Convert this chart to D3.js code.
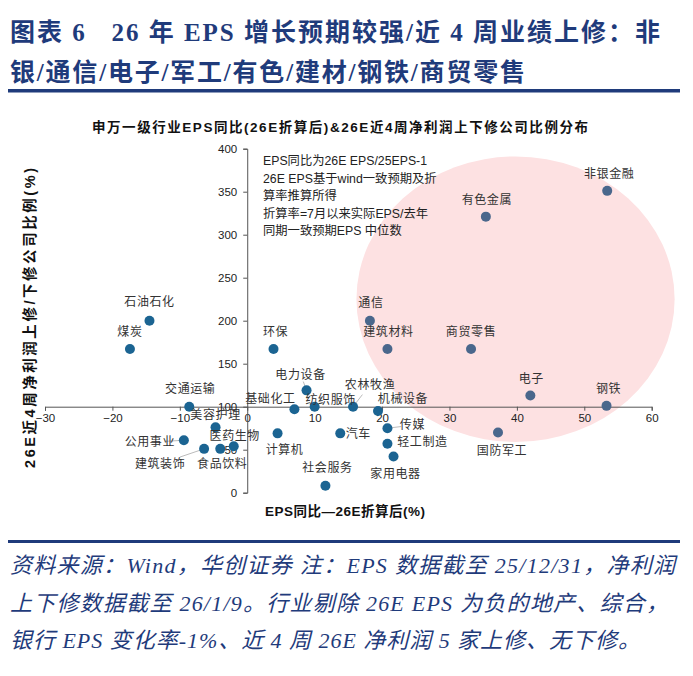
<!DOCTYPE html>
<html>
<head>
<meta charset="utf-8">
<script src="https://cdn.jsdelivr.net/npm/d3@7"></script>
<style>
  body { margin: 0; background: #fff; }
  svg { display: block; }
</style>
</head>
<body>
<div id="chart"></div>
<script>
// industry names, EPS yoy (26E, %), 26E 4-week up/down revision ratio (%)
var industries = ["石油石化","煤炭","环保","电力设备","交通运输","基础化工","纺织服饰","农林牧渔","机械设备",
  "美容护理","公用事业","医药生物","建筑装饰","食品饮料","计算机","社会服务","汽车","传媒","轻工制造","家用电器",
  "通信","建筑材料","商贸零售","电子","钢铁","国防军工","非银金融","有色金属"];
var epsYoy = [-14.5,-17.4,3.9,8.8,-8.6,7.0,10.0,15.7,19.4,
  -4.7,-9.4,-2.0,-6.4,-4.0,4.5,11.6,13.8,20.8,20.8,21.7,
  18.2,20.8,33.2,42.0,53.3,37.2,53.4,35.4];
var revRatio = [200,167,167,119,100,97,100,100,95,
  76,61,54,51,51,69,8,69,75,57,42,
  200,167,167,113,101,70,351,321];

var xTicks = [-30,-20,-10,0,10,20,30,40,50,60];
var yTicks = [0,50,100,150,200,250,300,350,400];

var noteLines = ["EPS同比为26E EPS/25EPS-1","26E EPS基于wind一致预期及折","算率推算所得",
  "折算率=7月以来实际EPS/去年","同期一致预期EPS 中位数"];
var footLines = ["资料来源：Wind，华创证券 注：EPS 数据截至 25/12/31，净利润",
  "上下修数据截至 26/1/9。行业剔除 26E EPS 为负的地产、综合，",
  "银行 EPS 变化率-1%、近 4 周 26E 净利润 5 家上修、无下修。"];

// label placement (pixel offsets from the dot), third value = draw a leader line
var labelPos = {
  "石油石化":[0,-19],"煤炭":[0,-17],"环保":[2,-17],"电力设备":[-6,-16,1],"交通运输":[1,-18],
  "基础化工":[-24,-10],"纺织服饰":[16,-7],"农林牧渔":[17,-22,1],"机械设备":[25,-12],
  "美容护理":[0,-13],"公用事业":[-34,2,1],"医药生物":[1,-10],"建筑装饰":[-44,15,1],"食品饮料":[2,15],
  "计算机":[7,16],"社会服务":[2,-18],"汽车":[18,0],"传媒":[25,-3,1],"轻工制造":[35,-2],
  "家用电器":[2,17],"通信":[1,-18],"建筑材料":[1,-17],"商贸零售":[0,-17],"电子":[1,-17],
  "钢铁":[2,-17],"国防军工":[4,18],"非银金融":[2,-17],"有色金属":[1,-17]
};

var W = 693, H = 676;
var navy = "#1f3b7b";
var cjk = "'Noto Sans CJK SC', 'Noto Sans', sans-serif";
var sans = "Arial, 'Liberation Sans', 'Noto Sans CJK SC', sans-serif";
var serif = "'Liberation Serif', 'Times New Roman', 'Noto Sans CJK SC', serif";

var svg = d3.select("#chart").append("svg").attr("width", W).attr("height", H);

// header
var title = svg.append("g").attr("fill", navy).attr("font-family", serif)
  .attr("font-weight", "bold").attr("font-size", 25);
title.append("text").attr("x", 10).attr("y", 41)
  .attr("textLength", 650).attr("lengthAdjust", "spacing")
  .text("图表 6\u00a0\u00a0\u00a026 年 EPS 增长预期较强/近 4 周业绩上修：非");
title.append("text").attr("x", 10).attr("y", 81)
  .attr("textLength", 515).attr("lengthAdjust", "spacing")
  .text("银/通信/电子/军工/有色/建材/钢铁/商贸零售");
svg.append("rect").attr("x", 8).attr("y", 89).attr("width", 672).attr("height", 3.5).attr("fill", navy);

// scales
var x = d3.scaleLinear().domain([-30, 60]).range([45, 651.7]);
var y = d3.scaleLinear().domain([0, 400]).range([492.7, 148.7]);

// chart title
svg.append("text").attr("x", 340).attr("y", 132).attr("text-anchor", "middle")
  .attr("font-family", sans).attr("font-weight", "bold").attr("font-size", 13.5).attr("fill", "#111")
  .attr("textLength", 496).attr("lengthAdjust", "spacing")
  .text("申万一级行业EPS同比(26E折算后)&26E近4周净利润上下修公司比例分布");

// highlight ellipse (data units)
var ell = { cx: 39.8, cy: 225, rx: 23.6, ry: 166 };
svg.append("ellipse")
  .attr("cx", x(ell.cx)).attr("cy", y(ell.cy))
  .attr("rx", x(ell.cx + ell.rx) - x(ell.cx)).attr("ry", y(ell.cy) - y(ell.cy + ell.ry))
  .attr("fill", "#fde1e2");

// axes
var xAxis = svg.append("g").attr("transform", "translate(0," + y(100) + ")")
  .call(d3.axisBottom(x).tickValues(xTicks).tickSize(4).tickPadding(3));
var yAxis = svg.append("g").attr("transform", "translate(" + x(0) + ",0)")
  .call(d3.axisLeft(y).tickValues(yTicks).tickSize(4).tickPadding(6));
[xAxis, yAxis].forEach(function(a) {
  a.select(".domain").attr("stroke", "#555");
  a.selectAll(".tick line").attr("stroke", "#555");
  a.selectAll(".tick text").attr("font-family", sans).attr("font-size", 11.5).attr("fill", "#222");
});

// axis titles
svg.append("text").attr("x", 345).attr("y", 516).attr("text-anchor", "middle")
  .attr("font-family", sans).attr("font-weight", "bold").attr("font-size", 13.5).attr("fill", "#111")
  .attr("textLength", 160).attr("lengthAdjust", "spacing")
  .text("EPS同比—26E折算后(%)");
svg.append("text").attr("transform", "translate(35,318) rotate(-90)").attr("text-anchor", "middle")
  .attr("font-family", sans).attr("font-weight", "bold").attr("font-size", 14.5).attr("fill", "#111")
  .attr("textLength", 300).attr("lengthAdjust", "spacing")
  .text("26E近4周净利润上修/下修公司比例(%)");

// note
svg.append("g").selectAll("text").data(noteLines).enter().append("text")
  .attr("x", 263).attr("y", function(d, i) { return 165 + i * 17.5; })
  .attr("font-family", sans).attr("font-size", 12.3).attr("fill", "#222")
  .text(function(d) { return d; });

// points
var pts = industries.map(function(n, i) { return { name: n, ex: epsYoy[i], ry: revRatio[i] }; });
function inEll(d) {
  return Math.pow((d.ex - ell.cx) / ell.rx, 2) + Math.pow((d.ry - ell.cy) / ell.ry, 2) < 1;
}

var g = svg.append("g");
g.selectAll("line.leader").data(pts.filter(function(d) { return labelPos[d.name][2]; }))
  .enter().append("line").attr("class", "leader")
  .attr("x1", function(d) { return x(d.ex); }).attr("y1", function(d) { return y(d.ry); })
  .attr("x2", function(d) { var p = labelPos[d.name]; return x(d.ex) + p[0] * 0.55; })
  .attr("y2", function(d) { var p = labelPos[d.name]; return y(d.ry) + p[1] * 0.55; })
  .attr("stroke", "#aaa").attr("stroke-width", 0.8);

g.selectAll("circle").data(pts).enter().append("circle")
  .attr("cx", function(d) { return x(d.ex); })
  .attr("cy", function(d) { return y(d.ry); })
  .attr("r", 5)
  .attr("fill", function(d) { return inEll(d) ? "#4a678c" : "#1b6492"; });

g.selectAll("text").data(pts).enter().append("text")
  .attr("x", function(d) { return x(d.ex) + labelPos[d.name][0]; })
  .attr("y", function(d) { return y(d.ry) + labelPos[d.name][1]; })
  .attr("dy", "0.35em").attr("text-anchor", "middle")
  .attr("font-family", cjk).attr("font-size", 12).attr("letter-spacing", 0.6).attr("fill", "#333")
  .text(function(d) { return d.name; });

// footer
svg.append("rect").attr("x", 8).attr("y", 540).attr("width", 672).attr("height", 3).attr("fill", navy);
var foot = svg.append("g").attr("fill", navy).attr("font-family", serif)
  .attr("font-style", "italic").attr("font-size", 22);
var footW = [665, 658, 630];
foot.selectAll("text").data(footLines).enter().append("text")
  .attr("x", 10).attr("y", function(d, i) { return 573 + i * 37.5; })
  .attr("textLength", function(d, i) { return footW[i]; })
  .attr("lengthAdjust", "spacing")
  .text(function(d) { return d; });
</script>
</body>
</html>
